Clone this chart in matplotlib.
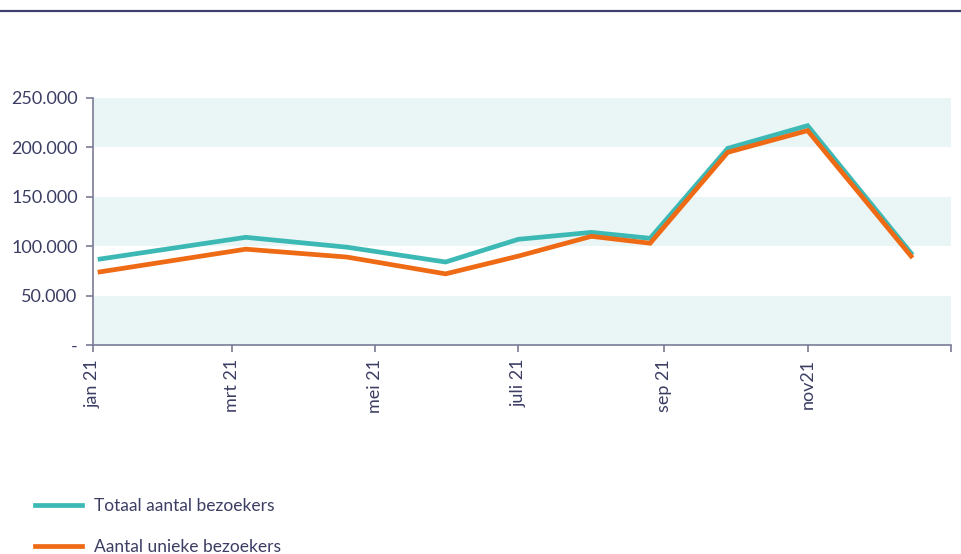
import datetime as dt
import matplotlib
matplotlib.use("Agg")
import matplotlib.pyplot as plt
from matplotlib.lines import Line2D
from matplotlib.ticker import FuncFormatter

# data (dates of the points on a date axis)
dates = ["2021-01-04", "2021-03-07", "2021-04-19", "2021-05-31", "2021-07-01",
         "2021-08-01", "2021-08-26", "2021-09-28", "2021-11-01", "2021-12-15"]
totaal = [87000, 109000, 99000, 84000, 107000, 114000, 108000, 199000, 222000, 93000]
uniek = [74000, 97000, 89000, 72000, 90000, 110000, 103000, 195000, 217000, 90000]

tick_dates = ["2021-01-01", "2021-03-01", "2021-05-01", "2021-07-01",
              "2021-09-01", "2021-11-01", "2022-01-01"]
tick_labels = ["jan 21", "mrt 21", "mei 21", "juli 21", "sep 21", "nov21", ""]

teal = "#3cb9b4"
orange = "#ee6a14"
txt = "#3b3d63"
axcol = "#7a7c96"

plt.rcParams['font.family'] = ['Lato', 'DejaVu Sans']

x = [dt.datetime.strptime(d, "%Y-%m-%d") for d in dates]
xt = [dt.datetime.strptime(d, "%Y-%m-%d") for d in tick_dates]

fig = plt.figure(figsize=(9.62, 5.54), dpi=100)
ax = fig.add_axes([93/962, 1-345/554, (951-93)/962, (345-98)/554])

# banded background
for lo in [0, 100000, 200000]:
    ax.axhspan(lo, lo + 50000, color="#eaf6f6", lw=0, zorder=0)

ax.plot(x, totaal, color=teal, lw=3.4, solid_joinstyle="miter", label="Totaal aantal bezoekers", zorder=3)
ax.plot(x, uniek, color=orange, lw=3.4, solid_joinstyle="miter", label="Aantal unieke bezoekers", zorder=4)

ax.set_xlim(xt[0], xt[-1])
ax.set_ylim(0, 250000)
ax.set_xticks(xt)
ax.set_xticklabels(tick_labels, rotation=90, va="top", ha="center")
ax.set_yticks(range(0, 250001, 50000))
ax.yaxis.set_major_formatter(FuncFormatter(lambda v, p: "-" if v == 0 else f"{int(v):,}".replace(",", ".")))

for s in ["top", "right"]:
    ax.spines[s].set_visible(False)
for s in ["left", "bottom"]:
    ax.spines[s].set_color(axcol)
    ax.spines[s].set_linewidth(1.2)
ax.tick_params(axis="both", colors=axcol, length=5, width=1.2, labelcolor=txt, labelsize=13)
ax.tick_params(axis="x", pad=5)
ax.tick_params(axis="y", pad=6)

# top rule
fig.add_artist(Line2D([0, 1], [1-10.5/554, 1-10.5/554], color="#3d3f6e", lw=1.6))

fig.legend(loc="upper left", bbox_to_anchor=(19/962, 1-482/554), frameon=False,
           handlelength=2.7, labelspacing=1.45, handletextpad=0.7,
           fontsize=12.5, labelcolor=txt)

fig.savefig("out.png", dpi=100)
